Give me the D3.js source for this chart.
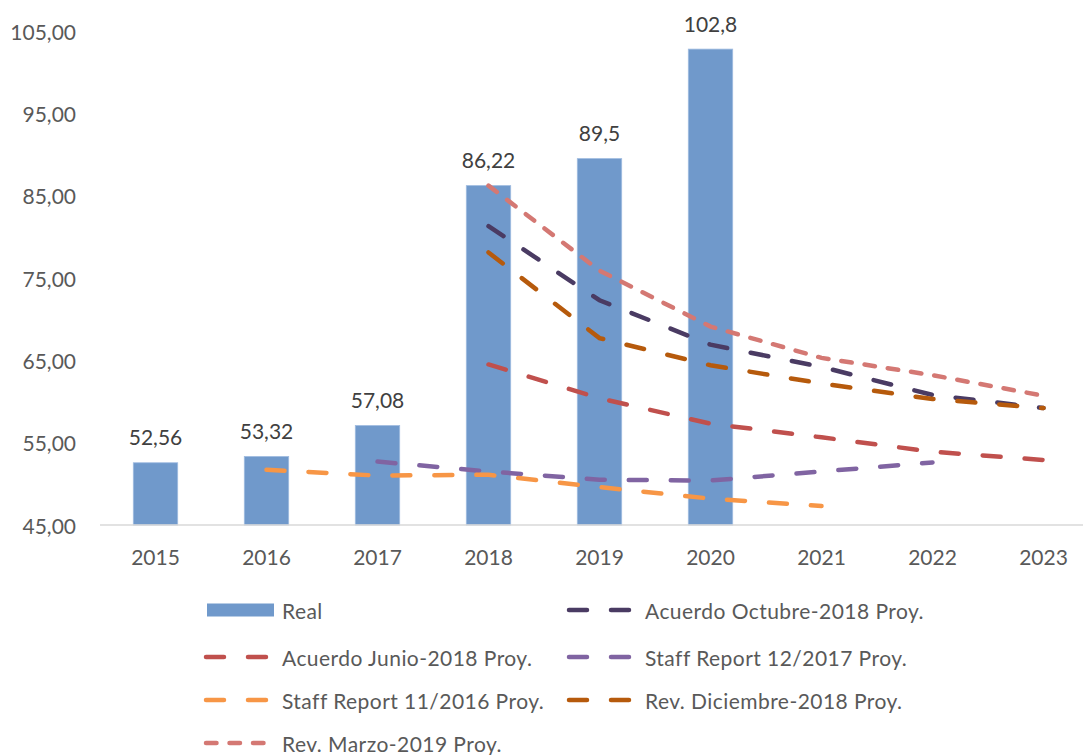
<!DOCTYPE html>
<html>
<head>
<meta charset="utf-8">
<script src="https://cdn.jsdelivr.net/npm/d3@7"></script>
<style>
  body { margin: 0; background: #fff; }
  text { font-family: Lato, "Open Sans", sans-serif; }
</style>
</head>
<body>
<svg id="chart" width="1083" height="755"></svg>
<script>
// Categories
const years = ["2015", "2016", "2017", "2018", "2019", "2020", "2021", "2022", "2023"];

// Bar series (real values)
const real = [52.56, 53.32, 57.08, 86.22, 89.5, 102.8, null, null, null];

// Projection series
const octubre2018 = [null, null, null, 81.3, 72.3, 66.9, 64.2, 60.8, 59.2];
const junio2018 = [null, null, null, 64.5, 60.4, 57.3, 55.65, 53.9, 52.9];
const staff2017 = [null, null, 52.7, 51.5, 50.5, 50.4, 51.5, 52.6, null];
const staff2016 = [null, 51.7, 51.0, 51.1, 49.6, 48.2, 47.3, null, null];
const diciembre2018 = [null, null, null, 78.1, 67.7, 64.4, 62.2, 60.3, 59.2];
const marzo2019 = [null, null, null, 86.22, 75.9, 69.1, 65.3, 63.2, 60.7];

// Y tick values
const yTicks = [45, 55, 65, 75, 85, 95, 105];

// Series names, in legend order
const lineNames = ["Acuerdo Octubre-2018 Proy.", "Acuerdo Junio-2018 Proy.", "Staff Report 12/2017 Proy.",
  "Staff Report 11/2016 Proy.", "Rev. Diciembre-2018 Proy.", "Rev. Marzo-2019 Proy."];
const lineValues = [octubre2018, junio2018, staff2017, staff2016, diciembre2018, marzo2019];

function chart(selector) {
  let svg = d3.select(selector);

  // comma as decimal separator
  let locale = d3.formatLocale({decimal: ",", thousands: ".", grouping: [3], currency: ["", ""]});
  let tickFmt = locale.format(".2f");
  let labelFmt = locale.format(".4~r");

  let lineColors = ["#4a3b63", "#c0504d", "#8064a2", "#f79646", "#b65a0c", "#d47873"];
  let dashes = ["18,24", "18,24", "18,24", "18,24", "18,24", "10.5,13"];
  let barColor = "#7099cb";

  let x = d3.scaleBand()
    .domain(years)
    .range([100, 1099])
    .paddingInner(0.6)
    .paddingOuter(0.3);

  let y = d3.scaleLinear()
    .domain([45, 105])
    .range([525, 31]);

  // Y tick labels (no axis line)
  svg.append("g")
    .selectAll("text")
    .data(yTicks)
    .enter()
    .append("text")
    .attr("x", 76)
    .attr("y", d => y(d))
    .attr("text-anchor", "end")
    .attr("dominant-baseline", "central")
    .style("font-size", "21px")
    .style("fill", "#595959")
    .text(d => tickFmt(d));

  // Bars
  let bars = svg.append("g");
  years.forEach(function(yr, i) {
    if (real[i] == null) return;
    bars.append("rect")
      .attr("x", x(yr))
      .attr("y", y(real[i]))
      .attr("width", x.bandwidth())
      .attr("height", y(45) - y(real[i]))
      .attr("fill", barColor)
      .attr("stroke", "#9fbbe0")
      .attr("stroke-width", 0.8);
    bars.append("text")
      .attr("x", x(yr) + x.bandwidth() / 2)
      .attr("y", y(real[i]) - 17.5)
      .attr("text-anchor", "middle")
      .style("font-size", "21px")
      .style("fill", "#404040")
      .text(labelFmt(real[i]));
  });

  // Category axis line
  svg.append("line")
    .attr("x1", 100).attr("x2", 1083)
    .attr("y1", y(45)).attr("y2", y(45))
    .attr("stroke", "#d9d9d9")
    .attr("stroke-width", 1.5);

  svg.append("g")
    .selectAll("text")
    .data(years)
    .enter()
    .append("text")
    .attr("x", d => x(d) + x.bandwidth() / 2)
    .attr("y", 565)
    .attr("text-anchor", "middle")
    .style("font-size", "21px")
    .style("fill", "#595959")
    .text(d => d);

  // Projection lines
  let line = d3.line()
    .defined(d => d[1] != null)
    .x(d => x(d[0]) + x.bandwidth() / 2)
    .y(d => y(d[1]));

  lineValues.forEach(function(vals, k) {
    svg.append("path")
      .datum(years.map((yr, i) => [yr, vals[i]]))
      .attr("d", line)
      .attr("fill", "none")
      .attr("stroke", lineColors[k])
      .attr("stroke-width", 4.5)
      .attr("stroke-linecap", "round")
      .attr("stroke-dasharray", dashes[k]);
  });

  // Legend
  let legend = svg.append("g");
  let colX = [204, 567];
  let rowY = [610, 657, 700, 743];
  let items = ["Real"].concat(lineNames);
  items.forEach(function(name, i) {
    let cx = colX[i % 2], cy = rowY[Math.floor(i / 2)];
    if (i === 0) {
      legend.append("rect")
        .attr("x", cx + 3).attr("y", cy - 6.5)
        .attr("width", 67).attr("height", 13)
        .attr("fill", barColor);
    } else {
      legend.append("line")
        .attr("x1", cx + 2).attr("x2", cx + 66)
        .attr("y1", cy).attr("y2", cy)
        .attr("stroke", lineColors[i - 1])
        .attr("stroke-width", 4.5)
        .attr("stroke-linecap", "round")
        .attr("stroke-dasharray", dashes[i - 1]);
    }
    legend.append("text")
      .attr("x", cx + 78)
      .attr("y", cy)
      .attr("dominant-baseline", "central")
      .style("font-size", "21px")
      .style("letter-spacing", "0.45px")
      .style("fill", "#595959")
      .text(name);
  });

  return chart;
}

chart("#chart");
</script>
</body>
</html>
